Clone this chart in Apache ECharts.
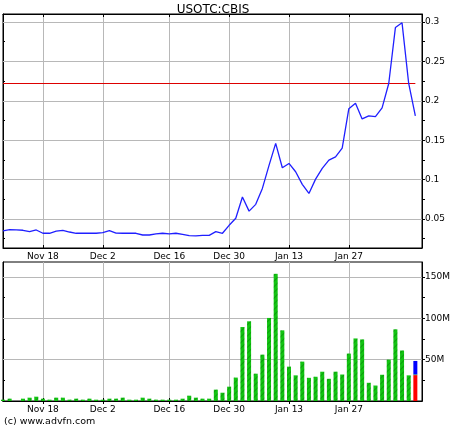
<!DOCTYPE html>
<html><head><meta charset="utf-8">
<script src="https://cdn.jsdelivr.net/npm/echarts@6/dist/echarts.min.js"></script>
<style>html,body{margin:0;padding:0;background:#fff}#c{width:460px;height:430px}</style>
</head><body><div id="c"></div>
<script>
// Trading days (category axis), last slot is empty padding
const days = [
  'Nov 8','Nov 11','Nov 12','Nov 13','Nov 14','Nov 15','Nov 18','Nov 19','Nov 20','Nov 21','Nov 22',
  'Nov 25','Nov 26','Nov 27','Nov 29',
  'Dec 2','Dec 3','Dec 4','Dec 5','Dec 6','Dec 9','Dec 10','Dec 11','Dec 12','Dec 13',
  'Dec 16','Dec 17','Dec 18','Dec 19','Dec 20','Dec 23','Dec 24','Dec 26','Dec 27','Dec 30','Dec 31',
  'Jan 2','Jan 3','Jan 6','Jan 7','Jan 8','Jan 9','Jan 10','Jan 13','Jan 14','Jan 15','Jan 16','Jan 17',
  'Jan 21','Jan 22','Jan 23','Jan 24','Jan 27','Jan 28','Jan 29','Jan 30','Jan 31',
  'Feb 3','Feb 4','Feb 5','Feb 6','Feb 7','Feb 10','Feb 11'
];
const dateTickLabels = ['Nov 18','Dec 2','Dec 16','Dec 30','Jan 13','Jan 27'];

const price = [
  0.0348,0.0365,0.0361,0.0357,0.0340,0.0361,0.0319,0.0319,0.0345,0.0357,0.0335,
  0.0319,0.0319,0.0319,0.0319,
  0.0327,0.0352,0.0320,0.0319,0.0319,0.0319,0.0297,0.0297,0.0310,0.0319,
  0.0310,0.0319,0.0306,0.0289,0.0285,0.0293,0.0293,0.0340,0.0319,0.0420,0.0509,
  0.0780,0.0600,0.0686,0.0888,0.1180,0.1460,0.1150,0.1205,0.1100,0.0940,0.0825,0.1006,
  0.1142,0.1247,0.1289,0.1400,0.1900,0.1970,0.1770,0.1810,0.1800,
  0.1910,0.2220,0.2930,0.2990,0.2220,0.1810
];
const prevClose = 0.222;
const priceTicks = [0.05,0.1,0.15,0.2,0.25,0.3];
const priceMinorTicks = [0.025,0.05,0.075,0.1,0.125,0.15,0.175,0.2,0.225,0.25,0.275,0.3];
const priceMin = 0.0132, priceMax = 0.3102;

// Volume in millions
const volume = [
  1.6,2.8,null,2.8,4.0,5.2,2.8,1.6,4.0,4.0,1.6,
  2.8,1.6,2.8,1.6,
  1.6,2.8,2.8,4.0,1.6,1.6,4.0,2.8,1.6,1.6,
  1.6,1.6,2.8,6.4,4.0,2.8,2.8,13.7,10.0,17.3,28.3,
  89.4,96.3,33.0,56.0,100.4,153.7,85.4,41.5,31.0,47.6,28.0,29.3,
  35.4,26.8,35.4,32.0,57.3,75.6,74.4,22.0,18.7,
  31.7,50.0,86.6,61.0,31.0
];
const lastBarDown = 31.3, lastBarMid = 0.8, lastBarUp = 16.3;
const volumeTicks = [50,100,150];
const volumeMinorTicks = [25,50,75,100,125,150];
const volMax = 168;

const FONT = 'DejaVu Sans';
const lastIdx = volume.length;
const only = v => (i) => i === lastIdx ? v : null;
const isDateTick = (i, v) => dateTickLabels.indexOf(v) >= 0;
const grid2color = '#b8b8b8';

function xAxes(gi, showLabels) {
  return [{
    gridIndex: gi, type: 'category', data: days, boundaryGap: false, position: 'bottom',
    axisLine: { show: true, lineStyle: { color: '#000', width: 1 } },
    axisTick: { show: true, inside: true, length: 3, interval: isDateTick, lineStyle: { color: '#000' } },
    axisLabel: { show: showLabels, interval: isDateTick, margin: 4, fontSize: 9, fontFamily: FONT, color: '#000' },
    splitLine: { show: true, interval: isDateTick, lineStyle: { color: grid2color, width: 1 } }
  }, {
    gridIndex: gi, type: 'category', data: days, boundaryGap: false, position: 'top',
    axisLine: { show: true, lineStyle: { color: '#000', width: 1 } },
    axisTick: { show: true, inside: true, length: 3, interval: isDateTick, lineStyle: { color: '#000' } },
    axisLabel: { show: false }, splitLine: { show: false }
  }];
}

const chart = echarts.init(document.getElementById('c'), null, { renderer: 'canvas' });
chart.setOption({
  animation: false,
  backgroundColor: '#fff',
  grid: [
    { left: 3, top: 14, width: 419, height: 234, show: true, borderColor: '#000', borderWidth: 1, backgroundColor: '#fff' },
    { left: 3, top: 262, width: 419, height: 139, show: true, borderColor: '#000', borderWidth: 1, backgroundColor: '#fff' }
  ],
  graphic: [
    { type: 'text', x: 213, y: 9.5, style: { text: 'USOTC:CBIS', align: 'center', verticalAlign: 'middle', fontSize: 12, fontFamily: FONT, fill: '#000' } },
    { type: 'text', x: 4, y: 422, style: { text: '(c) www.advfn.com', align: 'left', verticalAlign: 'middle', fontSize: 9.5, fontFamily: FONT, fill: '#000' } }
  ],
  xAxis: [].concat(xAxes(0, true), xAxes(1, true)),
  yAxis: [
    { gridIndex: 0, type: 'value', position: 'right', min: priceMin, max: priceMax,
      axisLine: { show: true, lineStyle: { color: '#000' } },
      axisTick: { show: true, length: 3, customValues: priceMinorTicks, lineStyle: { color: '#000' } },
      axisLabel: { show: true, margin: 3, customValues: priceTicks, fontSize: 9, fontFamily: FONT, color: '#000',
        formatter: v => String(parseFloat((+v).toFixed(3))) },
      splitLine: { show: false } },
    { gridIndex: 0, type: 'value', position: 'left', min: priceMin, max: priceMax,
      axisLine: { show: true, lineStyle: { color: '#000' } },
      axisTick: { show: true, inside: true, length: 2, customValues: priceMinorTicks, lineStyle: { color: '#000' } },
      axisLabel: { show: false }, splitLine: { show: false } },
    { gridIndex: 1, type: 'value', position: 'right', min: 0, max: volMax,
      axisLine: { show: true, lineStyle: { color: '#000' } },
      axisTick: { show: true, length: 3, customValues: volumeMinorTicks, lineStyle: { color: '#000' } },
      axisLabel: { show: true, margin: 3, customValues: volumeTicks, fontSize: 9, fontFamily: FONT, color: '#000',
        formatter: v => v + 'M' },
      splitLine: { show: false } },
    { gridIndex: 1, type: 'value', position: 'left', min: 0, max: volMax,
      axisLine: { show: true, lineStyle: { color: '#000' } },
      axisTick: { show: true, inside: true, length: 2, customValues: volumeMinorTicks, lineStyle: { color: '#000' } },
      axisLabel: { show: false }, splitLine: { show: false } }
  ],
  series: [
    { type: 'line', xAxisIndex: 0, yAxisIndex: 0, data: price, symbol: 'none', z: 3,
      lineStyle: { color: '#1f1fff', width: 1.3 },
      markLine: {
        silent: true, symbol: ['none', 'none'], z: 1, animation: false,
        label: { show: false },
        lineStyle: { color: grid2color, type: 'solid', width: 1 },
        data: priceTicks.map(v => ({ yAxis: v })).concat([[
          { xAxis: days[0], yAxis: prevClose, lineStyle: { color: '#dd0000', type: 'solid', width: 1 } },
          { xAxis: days[lastIdx], yAxis: prevClose }
        ]])
      } },
    { type: 'bar', xAxisIndex: 2, yAxisIndex: 2, data: volume, stack: 'vol', barWidth: 4,
      itemStyle: { color: '#12c412',
        decal: { symbol: 'rect', symbolSize: 1, color: 'rgba(0,90,0,0.35)', dashArrayX: [1, 0], dashArrayY: [1, 3], rotation: -Math.PI / 4 } },
      markLine: {
        silent: true, symbol: ['none', 'none'], label: { show: false }, z: 1, animation: false,
        lineStyle: { color: grid2color, type: 'solid', width: 1 },
        data: volumeTicks.map(v => ({ yAxis: v }))
      } },
    { type: 'bar', xAxisIndex: 2, yAxisIndex: 2, data: days.map((d, i) => only(lastBarDown)(i)), stack: 'vol', barWidth: 4,
      itemStyle: { color: '#ff0000' } },
    { type: 'bar', xAxisIndex: 2, yAxisIndex: 2, data: days.map((d, i) => only(lastBarMid)(i)), stack: 'vol', barWidth: 4,
      itemStyle: { color: '#12c412' } },
    { type: 'bar', xAxisIndex: 2, yAxisIndex: 2, data: days.map((d, i) => only(lastBarUp)(i)), stack: 'vol', barWidth: 4,
      itemStyle: { color: '#0000ff' } }
  ]
});
</script></body></html>
